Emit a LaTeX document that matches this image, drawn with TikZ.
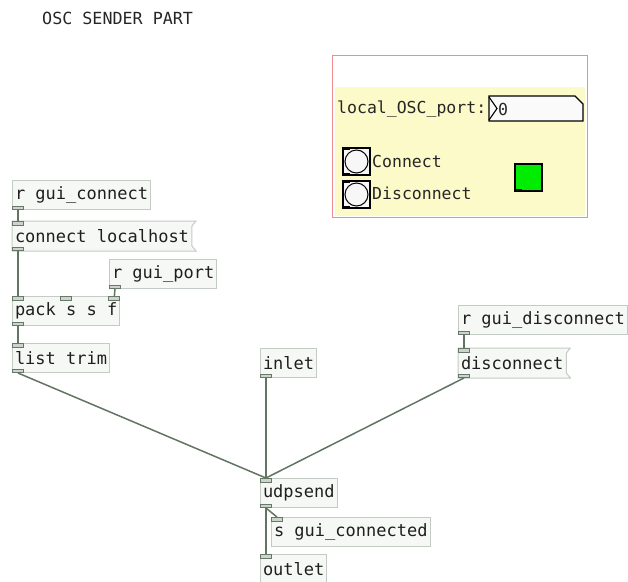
\documentclass[tikz,border=0pt]{standalone}
\usepackage{fontspec}
\newfontfamily\pdmono{DejaVu Sans Mono}
\usetikzlibrary{calc,backgrounds}

\definecolor{boxfill}{RGB}{246,248,246}
\definecolor{boxline}{RGB}{196,202,196}
\definecolor{wirecol}{RGB}{98,116,98}
\definecolor{portline}{RGB}{104,120,104}
\definecolor{portfill}{RGB}{204,212,204}
\definecolor{cnvred}{RGB}{240,140,140}
\definecolor{cnvfill}{RGB}{252,250,200}
\definecolor{tglgreen}{RGB}{0,236,0}

\tikzset{
  pdobj/.style={draw=boxline, fill=boxfill, line width=1pt, anchor=north west,
    minimum height=29pt, inner xsep=2.5pt, inner ysep=0pt,
    font=\pdmono\fontsize{17}{20}\selectfont, text=black!88},
  pdmsg/.style={pdobj, draw=none, fill=none},
  msgshape/.style={draw=boxline, fill=boxfill, line width=1pt},
  port/.style={draw=portline, fill=portfill, line width=0.9pt,
    minimum width=11pt, minimum height=3.5pt, inner sep=0pt},
  wire/.style={draw=wirecol, line width=1.5pt},
  comment/.style={font=\pdmono\fontsize{16.7}{19}\selectfont, text=black!85, inner sep=0pt},
  guitext/.style={font=\pdmono\fontsize{16.5}{19}\selectfont, text=black!85, inner sep=0pt},
  bng/.style={draw=black, line width=1.3pt, fill=white!97!black, minimum size=27pt,
    inner sep=0pt,
    path picture={\draw[black, line width=1pt] (path picture bounding box.center) circle (11.5pt);}},
  tgl/.style={draw=black, line width=1.3pt, fill=tglgreen, minimum size=27pt, inner sep=0pt},
  iomark/.style={fill=black, inner sep=0pt, minimum width=7pt, minimum height=2.5pt}
}

\begin{document}
\begin{tikzpicture}[x=1pt,y=-1pt]
\useasboundingbox (0,0) rectangle (628,581);

% heading comment
\node[comment, anchor=west] (title) at (42,18) {OSC SENDER PART};

% ---- GUI canvas ----
\draw[cnvred, line width=1.5pt, fill=white] (332.5,55.5) rectangle (587.5,217.5);
\fill[cnvfill] (335,87) rectangle (585,215.5);
\node[guitext, anchor=west] (portlabel) at (337,109) {local\_OSC\_port:};
\filldraw[fill=white!98!black, draw=black, line width=1.3pt]
  (489,96) -- (575,96) -- (583,104) -- (583,121) -- (489,121) -- cycle;
\draw[black, line width=1.1pt] (489,97) -- (497,108.5) -- (489,120);
\node[guitext, anchor=west] (portnum) at (498,109) {0};

\node[bng] (bconn) at (356.5,161.5) {};
\node[bng] (bdisc) at (356.5,194.5) {};
\node[iomark, anchor=north west] (bconn-i) at (bconn.north west) {};
\node[iomark, anchor=south west] (bconn-o) at (bconn.south west) {};
\node[iomark, anchor=north west] (bdisc-i) at (bdisc.north west) {};
\node[iomark, anchor=south west] (bdisc-o) at (bdisc.south west) {};
\node[guitext, anchor=west] (lconn) at (372,161) {Connect};
\node[guitext, anchor=west] (ldisc) at (372,193) {Disconnect};

\node[tgl] (led) at (528.5,177.5) {};
\node[iomark, anchor=south west] (led-o) at (led.south west) {};

% ---- objects ----
\node[pdobj] (rgc) at (12,180) {r gui\_connect};
\node[pdmsg] (conn) at (12,221) {connect localhost};
\node[pdobj] (rgp) at (109,259) {r gui\_port};
\node[pdobj] (pack) at (12,296) {pack s s f};
\node[pdobj] (lt) at (12,343) {list trim};
\node[pdobj] (inl) at (260,348) {inlet};
\node[pdobj] (rgd) at (458,305) {r gui\_disconnect};
\node[pdmsg] (disc) at (458,348) {disconnect};
\node[pdobj] (udp) at (260,478) {udpsend};
\node[pdobj] (sgc) at (271,517) {s gui\_connected};
\node[pdobj] (outl) at (260,554) {outlet};

% message box outlines with the flag on the right
\begin{scope}[on background layer]
\foreach \m in {conn,disc}{
  \filldraw[msgshape] (\m.north west) -- ($(\m.north east)+(4,0)$)
    -- ($(\m.north east)+(0,5)$) -- ($(\m.south east)+(0,-5)$)
    -- ($(\m.south east)+(4,0)$) -- (\m.south west) -- cycle;
}
\end{scope}

% ---- inlets and outlets ----
\node[port, anchor=south west] (rgc-o) at (rgc.south west) {};
\node[port, anchor=north west] (conn-i) at (conn.north west) {};
\node[port, anchor=south west] (conn-o) at (conn.south west) {};
\node[port, anchor=south west] (rgp-o) at (rgp.south west) {};
\node[port, anchor=north west] (pack-i1) at (pack.north west) {};
\node[port, anchor=north] (pack-i2) at (pack.north) {};
\node[port, anchor=north east] (pack-i3) at (pack.north east) {};
\node[port, anchor=south west] (pack-o) at (pack.south west) {};
\node[port, anchor=north west] (lt-i) at (lt.north west) {};
\node[port, anchor=south west] (lt-o) at (lt.south west) {};
\node[port, anchor=south west] (inl-o) at (inl.south west) {};
\node[port, anchor=south west] (rgd-o) at (rgd.south west) {};
\node[port, anchor=north west] (disc-i) at (disc.north west) {};
\node[port, anchor=south west] (disc-o) at (disc.south west) {};
\node[port, anchor=north west] (udp-i) at (udp.north west) {};
\node[port, anchor=south west] (udp-o) at (udp.south west) {};
\node[port, anchor=north west] (sgc-i) at (sgc.north west) {};
\node[port, anchor=north west] (outl-i) at (outl.north west) {};

% ---- connections ----
\draw[wire] (rgc-o.south) -- (conn-i.north);
\draw[wire] (conn-o.south) -- (pack-i1.north);
\draw[wire] (rgp-o.south) -- (pack-i3.north);
\draw[wire] (pack-o.south) -- (lt-i.north);
\draw[wire] (lt-o.south) -- (udp-i.north);
\draw[wire] (inl-o.south) -- (udp-i.north);
\draw[wire] (rgd-o.south) -- (disc-i.north);
\draw[wire] (disc-o.south) -- (udp-i.north);
\draw[wire] (udp-o.south) -- (outl-i.north);
\draw[wire] (udp-o.south) -- (sgc-i.north);
\end{tikzpicture}
\end{document}
